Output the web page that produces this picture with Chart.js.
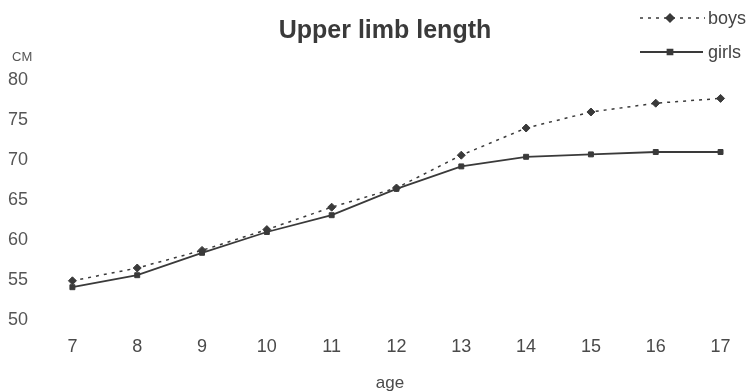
<!DOCTYPE html>
<html>
<head>
<meta charset="utf-8">
<script src="https://cdn.jsdelivr.net/npm/chart.js@4/dist/chart.umd.min.js"></script>
<style>
  html, body { margin: 0; padding: 0; background: #fff; }
  #wrap { width: 748px; height: 391px; }
</style>
</head>
<body>
<div id="wrap"><canvas id="chart" width="748" height="391"></canvas></div>
<script>
// dados
const ages = [7, 8, 9, 10, 11, 12, 13, 14, 15, 16, 17];
const boys = [54.9, 56.5, 58.7, 61.3, 64.1, 66.5, 70.6, 74.0, 76.0, 77.1, 77.7];
const girls = [54.1, 55.6, 58.4, 61.0, 63.1, 66.4, 69.2, 70.4, 70.7, 71.0, 71.0];
const yTicks = [50, 55, 60, 65, 70, 75, 80];

const titulo = 'Upper limb length';
const unidade = 'CM';
const eixoX = 'age';

const corLinha = '#3a3a3a';
const fonte = '"Liberation Sans", Arial, sans-serif';

// título, unidade e legenda desenhados à mão
const extras = {
  id: 'extras',
  afterDraw(chart) {
    let ctx = chart.ctx;
    ctx.save();
    ctx.fillStyle = '#3a3a3a';
    ctx.font = 'bold 25px ' + fonte;
    ctx.textAlign = 'center';
    ctx.textBaseline = 'alphabetic';
    ctx.fillText(titulo, 385, 38);

    ctx.fillStyle = '#555';
    ctx.font = '13px ' + fonte;
    ctx.textAlign = 'left';
    ctx.fillText(unidade, 12, 61);

    // legenda
    let itens = [
      {label: 'boys', y: 18, dash: [3, 5], style: 'rectRot', r: 4, x1: 640, x2: 705},
      {label: 'girls', y: 52, dash: [], style: 'rect', r: 3.5, x1: 640, x2: 703}
    ];
    itens.forEach(it => {
      ctx.strokeStyle = corLinha;
      ctx.lineWidth = it.dash.length ? 1.5 : 1.8;
      ctx.setLineDash(it.dash);
      ctx.beginPath();
      ctx.moveTo(it.x1, it.y);
      ctx.lineTo(it.x2, it.y);
      ctx.stroke();
      ctx.setLineDash([]);
      ctx.fillStyle = corLinha;
      Chart.helpers.drawPoint(ctx, {pointStyle: it.style, radius: it.r, borderWidth: 1}, 670, it.y);
      ctx.fillStyle = '#444';
      ctx.font = '18px ' + fonte;
      ctx.textBaseline = 'middle';
      ctx.fillText(it.label, 708, it.y + 1);
    });
    ctx.restore();
  }
};

let ctx = document.getElementById('chart').getContext('2d');
let meuGrafico = new Chart(ctx, {
  type: 'line',
  data: {
    datasets: [
      {
        label: 'boys',
        data: ages.map((a, i) => ({x: a, y: boys[i]})),
        borderColor: corLinha,
        backgroundColor: corLinha,
        borderWidth: 1.5,
        borderDash: [3, 5],
        pointStyle: 'rectRot',
        pointRadius: 4,
        pointBorderWidth: 1,
        tension: 0
      },
      {
        label: 'girls',
        data: ages.map((a, i) => ({x: a, y: girls[i]})),
        borderColor: corLinha,
        backgroundColor: corLinha,
        borderWidth: 1.8,
        pointStyle: 'rect',
        pointRadius: 3.5,
        pointBorderWidth: 1,
        tension: 0
      }
    ]
  },
  plugins: [extras],
  options: {
    responsive: false,
    animation: false,
    clip: false,
    layout: {padding: {top: 80, left: 8, right: 8, bottom: 0}},
    plugins: {
      legend: {display: false},
      title: {display: false},
      tooltip: {enabled: false}
    },
    scales: {
      x: {
        type: 'linear',
        min: 6.5,
        max: 17.3,
        grid: {display: false},
        border: {display: false},
        afterBuildTicks: s => { s.ticks = ages.map(v => ({value: v})); },
        afterFit: s => { s.height = 71; },
        ticks: {
          color: '#4a4a4a',
          font: {family: fonte, size: 18},
          padding: 8,
          maxRotation: 0,
          autoSkip: false
        },
        title: {
          display: true,
          text: eixoX,
          color: '#4a4a4a',
          font: {family: fonte, size: 17},
          padding: {top: 12, bottom: -3}
        }
      },
      y: {
        min: 50,
        max: 80,
        grid: {display: false},
        border: {display: false},
        afterBuildTicks: s => { s.ticks = yTicks.map(v => ({value: v})); },
        afterFit: s => { s.width = 32; },
        ticks: {
          color: '#555',
          font: {family: fonte, size: 18},
          crossAlign: 'far',
          padding: 6
        }
      }
    }
  }
});
</script>
</body>
</html>
